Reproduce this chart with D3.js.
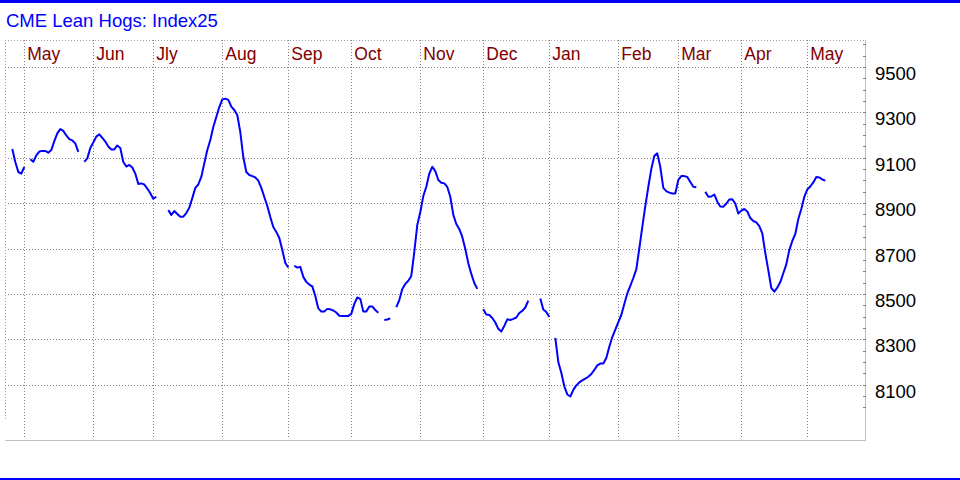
<!DOCTYPE html>
<html><head><meta charset="utf-8">
<script src="https://cdn.jsdelivr.net/npm/d3@7"></script>
<style>html,body{margin:0;padding:0;background:#fff;overflow:hidden}</style>
</head><body>
<svg id="c" width="960" height="480"></svg>
<script>
const chartTitle = "CME Lean Hogs: Index25";
const monthLabels = ["May","Jun","Jly","Aug","Sep","Oct","Nov","Dec","Jan","Feb","Mar","Apr","May"];
const monthStartDay = [0,23,43,66,88,109,132,153,175,198,218,239,261];
const yLabelValues = [9500,9300,9100,8900,8700,8500,8300,8100];
const yMinorTicks = [8000,8050,8100,8150,8200,8250,8300,8350,8400,8450,8500,8550,8600,8650,8700,8750,8800,8850,8900,8950,9000,9050,9100,9150,9200,9250,9300,9350,9400,9450,9500,9550,9600];
const firstDay = -4;
const index25 = [
9138,9081,9037,9030,9059,null,
9093,9082,9110,9127,9130,9130,9122,9134,9173,9207,9226,9218,9198,9182,9176,9163,9126,null,
9082,9097,9143,9167,9193,9203,9187,9171,9149,9136,9136,9154,9143,9081,9061,9068,9057,9030,8984,8987,8982,8964,8943,8919,8928,null,null,null,
8869,8848,8865,8852,8840,8840,8856,8880,8922,8967,8982,9015,9075,9134,9178,9235,9279,9323,9357,9360,9355,9325,9310,9288,9213,9103,9037,9024,9019,9013,8999,8967,8927,8887,8839,8795,8773,8746,8693,8636,8616,null,
8624,8616,8619,8575,8553,8541,8533,8491,8436,8422,8422,8434,8432,8427,8418,8404,8403,8403,8403,8412,8456,8484,8478,8422,8422,8445,8445,8429,8417,null,
8385,8387,8392,null,
8442,8473,8522,8544,8558,8579,8685,8804,8861,8931,8972,9030,9060,9041,9002,8990,8987,8971,8928,8848,8808,8785,8751,8698,8635,8588,8548,8522,null,
8432,8409,8407,8394,8374,8346,8334,8359,8388,8385,8390,8396,8416,8425,8440,8470,null,null,null,
8480,8431,8420,8398,null,
8306,8200,8153,8093,8057,8048,8077,8097,8110,8119,8127,8135,8147,8165,8185,8193,8193,8218,8267,8310,8343,8376,8407,8456,8502,8535,8570,8608,8700,8795,8887,8971,9050,9108,9119,9059,8967,8953,8946,8942,8942,9002,9019,9019,9015,8993,8972,8970,null,null,
8950,8928,8929,8938,8906,8885,8884,8898,8916,8917,8898,8854,8867,8874,8863,8834,8821,8815,8799,8767,8680,8605,8526,8510,8528,8552,8591,8630,8693,8733,8764,8830,8874,8927,8960,8973,8991,9015,9013,9004,8999
];

const W = 960, H = 480;
const plot = {left: 5, right: 865, top: 40, bottom: 440};
const svg = d3.select("#c");
const font = "'Liberation Sans', Arial, sans-serif";

const x = d3.scaleLinear().domain([0, 261]).range([24.3, 807.3]);
const y = d3.scaleLinear().domain([8100, 9500]).range([384.7, 66.9]);

svg.append("rect").attr("width", W).attr("height", H).attr("fill", "#fff");

// blue frame bars
svg.append("rect").attr("x", 0).attr("y", 0).attr("width", W).attr("height", 3).attr("fill", "#0000ff");
svg.append("rect").attr("x", 0).attr("y", 478).attr("width", W).attr("height", 2).attr("fill", "#0000ff");

// title
svg.append("text").attr("x", 6).attr("y", 27).attr("fill", "#0000ff")
  .style("font-family", font).style("font-size", "18.5px").text(chartTitle);

const grid = svg.append("g").attr("stroke", "#808080").attr("stroke-width", 1)
  .attr("stroke-dasharray", "1,2").attr("shape-rendering", "crispEdges");

// top dotted border & left dotted border
grid.append("line").attr("x1", plot.left).attr("x2", plot.right).attr("y1", plot.top + 0.5).attr("y2", plot.top + 0.5).attr("stroke", "#a0a0a0");
grid.append("line").attr("x1", plot.left + 0.5).attr("x2", plot.left + 0.5).attr("y1", plot.top).attr("y2", 420).attr("stroke", "#a0a0a0");

// horizontal gridlines
grid.selectAll("line.h").data(yLabelValues).enter().append("line").attr("class", "h")
  .attr("x1", plot.left + 3).attr("x2", plot.right)
  .attr("y1", d => Math.round(y(d)) + 0.5).attr("y2", d => Math.round(y(d)) + 0.5);

// vertical month gridlines
grid.selectAll("line.v").data(monthStartDay).enter().append("line").attr("class", "v")
  .attr("x1", d => Math.round(x(d)) + 0.5).attr("x2", d => Math.round(x(d)) + 0.5)
  .attr("y1", plot.top).attr("y2", 437);

// month labels
svg.selectAll("text.m").data(monthStartDay).enter().append("text").attr("class", "m")
  .attr("x", d => x(d) + 3).attr("y", 59.5).attr("fill", "#800000")
  .style("font-family", font).style("font-size", "17.5px")
  .text((d, i) => monthLabels[i]);

// solid axis lines
svg.append("line").attr("x1", plot.right + 0.5).attr("x2", plot.right + 0.5).attr("y1", plot.top).attr("y2", plot.bottom + 0.5)
  .attr("stroke", "#c0c0c0").attr("shape-rendering", "crispEdges");
svg.append("line").attr("x1", plot.left).attr("x2", plot.right + 1).attr("y1", plot.bottom + 0.5).attr("y2", plot.bottom + 0.5)
  .attr("stroke", "#c0c0c0").attr("shape-rendering", "crispEdges");

// minor ticks on right axis
const tickAxis = d3.axisLeft(y).tickValues(yMinorTicks).tickSize(3).tickFormat("");
const tg = svg.append("g").attr("transform", `translate(${plot.right + 0.5},0)`).call(tickAxis);
tg.select(".domain").remove();
tg.selectAll("line").attr("stroke", "#808080").attr("shape-rendering", "crispEdges");

// y labels
svg.selectAll("text.y").data(yLabelValues).enter().append("text").attr("class", "y")
  .attr("x", 875).attr("y", d => y(d) + 13).attr("fill", "#000")
  .style("font-family", font).style("font-size", "18.5px")
  .text(d => d);

// data line
const pts = index25.map((v, i) => ({day: firstDay + i, v}));
const line = d3.line().defined(d => d.v !== null).x(d => x(d.day)).y(d => y(d.v));
svg.append("path").datum(pts).attr("d", line).attr("fill", "none")
  .attr("stroke", "#0000ff").attr("stroke-width", 2).attr("stroke-linejoin", "round");
</script>
</body></html>
